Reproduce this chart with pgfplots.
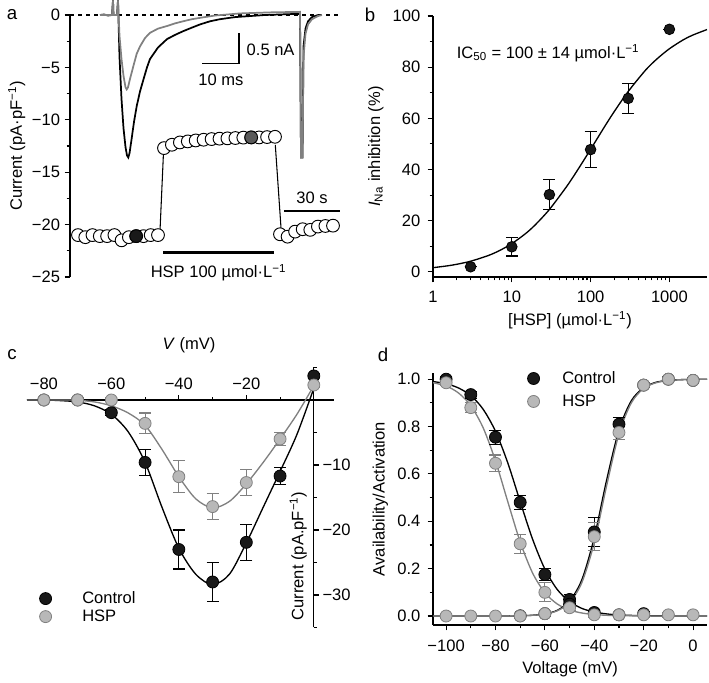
\documentclass[border=0pt]{standalone}
\usepackage{fontspec}
\setmainfont{Liberation Sans}
\usepackage{pgfplots}
\pgfplotsset{compat=1.18}
\definecolor{dk}{gray}{0.1}
\definecolor{lg}{gray}{0.72}
\definecolor{mg}{gray}{0.5}
\pgfplotsset{
  every axis/.append style={scale only axis, font=\fontsize{12.4}{14.5}\selectfont,
    /pgf/number format/assume math mode=true, /pgf/number format/1000 sep={},
    axis line style={-, line width=0.8pt},
    every inner x axis line/.append style={-}, every inner y axis line/.append style={-},
    every outer x axis line/.append style={-}, every outer y axis line/.append style={-},
    tick style={line width=0.8pt, black}, major tick length=4pt, minor tick length=2.5pt},
  blk/.style={only marks, mark=*, mark size=4.5pt, mark options={fill=dk, draw=black, line width=0.6pt},
    error bars/y dir=both, error bars/y explicit,
    error bars/error bar style={black, line width=0.8pt},
    error bars/error mark options={rotate=90, mark size=4.5pt, line width=0.8pt, black},
    legend image code/.code={\draw[##1] plot coordinates {(0pt,0pt)};}},
  gry/.style={only marks, mark=*, mark size=4.5pt, mark options={fill=lg, draw=mg, line width=0.6pt},
    error bars/y dir=both, error bars/y explicit,
    error bars/error bar style={mg, line width=0.8pt},
    error bars/error mark options={rotate=90, mark size=4.5pt, line width=0.8pt, mg},
    legend image code/.code={\draw[##1] plot coordinates {(0pt,0pt)};}},
  mylegend/.style={legend style={draw=none, fill=none, inner sep=0pt, outer sep=0pt,
    nodes={inner sep=0pt, outer sep=0pt}, font=\fontsize{12.4}{14.5}\selectfont}, legend cell align=left},
}
\begin{document}
\begin{tikzpicture}
\useasboundingbox (0,0) rectangle (531.75pt,-511.5pt);
\node[font=\fontsize{14}{16}\selectfont] at (9pt,-11.25pt) {a};
\node[font=\fontsize{14}{16}\selectfont] at (277.5pt,-11.25pt) {b};
\node[font=\fontsize{14}{16}\selectfont] at (9pt,-266.25pt) {c};
\node[font=\fontsize{14}{16}\selectfont] at (287.25pt,-266.25pt) {d};

% ---------------- panel a ----------------
\begin{axis}[at={(52.5pt,-207.75pt)}, anchor=south west, width=206.25pt, height=196.5pt,
  xmin=70, xmax=345, ymin=-25, ymax=0, clip=false, hide x axis, axis y line*=left,
  tick align=outside,
  ytick={-25,-20,-15,-10,-5,0}, yticklabels={−25,−20,−15,−10,−5,0},
  minor ytick={-22.5,-17.5,-12.5,-7.5,-2.5},
  ylabel={Current (pA·pF\textsuperscript{−1})}, ylabel style={yshift=-2pt}]
\addplot[black, dashed, line width=0.8pt] coordinates {(70,0) (340,0)};
\addplot[black, line width=1.3pt] coordinates {
 (100,0) (104,0.05) (108,-0.05) (112,0) (113,1.4) (113.5,0) (117,0) (118,1.4)
 (119.5,-4) (121.5,-8) (123.5,-10.8) (125.5,-12.6) (127,-13.4) (128.3,-13.6) (129.5,-13.2)
 (131.5,-11.9) (134,-10.2) (136.7,-8.7) (140,-7.3) (143.3,-6.2) (147,-5) (150,-4.2)
 (158,-3.1) (167,-2.3) (175,-1.9) (183,-1.55) (192,-1.2) (200,-0.9) (210,-0.6) (220,-0.4)
 (235,-0.2) (250,-0.1) (265,0) (280,0.05) (295,0.1) (300,0.1) (301,-13.6) (302.5,-13.6)
 (303.5,-3) (305.5,-1.3) (308,-0.6) (312,-0.2) (318,0)};
\addplot[mg, line width=1.3pt] coordinates {
 (100,0) (112,0) (113,1.4) (113.5,0) (117,0) (118,1.4)
 (119.5,-2) (121.5,-4.2) (123.5,-5.8) (125.5,-6.9) (126.7,-7.1) (128,-6.9) (130,-6.1)
 (133.3,-4.9) (136.7,-3.7) (140,-3.0) (145,-2.2) (150,-1.7) (158,-1.3) (167,-1.05)
 (175,-0.8) (183,-0.6) (192,-0.4) (200,-0.27) (215,-0.05) (240,0.15) (270,0.25) (300,0.3)
 (301,-13.6) (302.5,-13.6) (303.5,-4) (305.5,-1.8) (308,-0.9) (312,-0.4) (318,-0.1) (322,0)};
\addplot[black, line width=0.8pt] coordinates {(160,-20.6) (163.4,-13.3)};
\addplot[black, line width=0.8pt] coordinates {(275.3,-12.4) (281,-20.3)};
\addplot[black, line width=2pt] coordinates {(163.3,-22.64) (274,-22.64)};
\addplot[black, line width=1.6pt] coordinates {(284,-18.7) (340,-18.7)};
\addplot[black, line width=1pt] coordinates {(202,-4.64) (239,-4.64) (239,-1.67)};
\node at (axis cs:218.5,-24.6) {HSP 100 µmol·L\textsuperscript{−1}};
\node at (axis cs:312,-17.4) {30 s};
\node[anchor=west] at (axis cs:242,-3.3) {0.5 nA};
\node at (axis cs:221,-6.2) {10 ms};
\addplot[only marks, mark=*, mark size=4.8pt, mark options={fill=white, draw=black, line width=0.7pt}] coordinates {
 (78,-21.0) (85.3,-21.2) (92.5,-21.0) (99.8,-21.1) (107.1,-21.1) (114.4,-21.0) (121.6,-21.5)
 (128.9,-21.2) (136.2,-21.1) (143.5,-21.1) (150.7,-21.0) (158,-21.0)};
\addplot[only marks, mark=*, mark size=4.8pt, mark options={fill=dk, draw=black, line width=0.7pt}] coordinates {(136.2,-21.1)};
\addplot[only marks, mark=*, mark size=4.8pt, mark options={fill=white, draw=black, line width=0.7pt}] coordinates {
 (164,-12.70) (171.9,-12.38) (179.9,-12.16) (187.8,-12.06) (195.7,-11.97) (203.6,-11.9)
 (211.6,-11.84) (219.5,-11.8) (227.4,-11.77) (235.4,-11.74) (243.3,-11.7) (251.2,-11.68)
 (259.1,-11.68) (267.1,-11.65) (275,-11.62)};
\addplot[only marks, mark=*, mark size=4.8pt, mark options={fill=gray!70!black, draw=black, line width=0.7pt}] coordinates {(251.2,-11.68)};
\addplot[only marks, mark=*, mark size=4.8pt, mark options={fill=white, draw=black, line width=0.7pt}] coordinates {
 (280,-20.92) (287.6,-21.15) (295.1,-20.67) (302.7,-20.44) (310.3,-20.5) (317.9,-20.19) (325.4,-20.13) (333,-20.1)};
\end{axis}

% ---------------- panel b ----------------
\begin{axis}[at={(324.75pt,-207.75pt)}, anchor=south west, width=205.5pt, height=195.75pt,
  xmode=log, log basis x=10, xmin=1, xmax=3000, ymin=-2, ymax=100, clip=false,
  axis lines*=left, tick align=outside, log ticks with fixed point,
  xticklabel style={yshift=-3pt}, yticklabel style={xshift=-2pt},
  ytick={0,20,40,60,80,100}, minor ytick={10,30,50,70,90},
  xlabel={[HSP] (µmol·L\textsuperscript{−1})},
  ylabel={\textit{I}\textsubscript{Na} inhibition (\%)}]
\addplot[black, line width=1pt, smooth] coordinates {
 (1,1.65) (1.5,2.33) (2,2.97) (3,4.17) (5,6.36) (7,8.35) (10,11.05) (15,15.0) (20,18.5)
 (30,24.4) (50,33.5) (70,40.3) (100,47.9) (150,56.7) (200,62.7) (300,70.5) (500,78.9)
 (700,83.3) (1000,87.2) (1500,90.7) (2000,92.6) (3000,94.7)};
\addplot[blk, mark size=4pt] coordinates {
 (3,2) +- (0,0) (10,9.8) +- (0,3.6) (30,30.2) +- (0,6) (100,47.8) +- (0,7)
 (300,67.8) +- (0,6) (1000,94.8) +- (0,0)};
\node[anchor=west] at (axis cs:1.75,85.5) {IC\textsubscript{50} = 100 ± 14 µmol·L\textsuperscript{−1}};
\end{axis}

% ---------------- panel c ----------------
\begin{axis}[at={(20.25pt,-470.6pt)}, anchor=south west, width=230.3pt, height=195pt,
  xmin=-85, xmax=6, ymin=-35, ymax=5, clip=false,
  axis x line=middle, axis y line=middle, x axis line style={-}, y axis line style={-},
  tick align=center,
  major x tick style={yshift=2pt}, minor x tick style={yshift=1.25pt},
  major y tick style={xshift=2pt}, minor y tick style={xshift=1.25pt},
  xtick={-80,-60,-40,-20}, xticklabels={−80,−60,−40,−20}, minor xtick={-70,-50,-30,-10},
  ytick={-30,-20,-10}, yticklabels={−30,−20,−10}, minor ytick={-35,-25,-15,-5,5},
  xticklabel style={anchor=south, yshift=6pt},
  yticklabel style={anchor=west, xshift=5pt},
  mylegend,
  legend style={at={(0.041,0.138)}, anchor=north west, row sep=3.2pt,
    /tikz/every odd column/.append style={column sep=23pt}}]
\addplot[black, line width=1pt, smooth, forget plot] coordinates {
 (-85,0) (-80,0) (-75,-0.1) (-70,-0.3) (-65,-0.9) (-60,-2.2) (-55,-4.9) (-50,-9.6)
 (-45,-16.5) (-40,-22.8) (-35,-26.8) (-30,-28.4) (-25,-26.8) (-20,-22) (-15,-16.5)
 (-10,-11) (-5,-5.3) (0,1.8)};
\addplot[mg, line width=1pt, smooth, forget plot] coordinates {
 (-85,0) (-75,0) (-70,-0.05) (-65,-0.3) (-60,-0.9) (-55,-2.0) (-50,-3.9) (-45,-7.6)
 (-40,-11.8) (-35,-15.2) (-30,-16.6) (-25,-15.6) (-20,-12.9) (-15,-9.6) (-10,-6.0)
 (-5,-2.2) (0,2.2)};
\addplot[blk] coordinates {
 (-80,0) +- (0,0) (-70,0) +- (0,0) (-60,-1.95) +- (0,0.5) (-50,-9.6) +- (0,2)
 (-40,-23.0) +- (0,3) (-30,-28.0) +- (0,3) (-20,-21.9) +- (0,2.8) (-10,-11.7) +- (0,1.3)
 (0,3.7) +- (0,0.3)};
\addplot[gry] coordinates {
 (-80,0) +- (0,0) (-70,0) +- (0,0) (-60,0) +- (0,0.3) (-50,-3.6) +- (0,1.6)
 (-40,-11.8) +- (0,2.5) (-30,-16.4) +- (0,2) (-20,-12.7) +- (0,2) (-10,-6.0) +- (0,1)
 (0,2.3) +- (0,0.3)};
\legend{Control, HSP}
\node[rotate=90] at (axis cs:-4.6,-24) {Current (pA.pF\textsuperscript{−1})};
\node at (axis cs:-37,8.5) {\textit{V} (mV)};
\end{axis}

% ---------------- panel d ----------------
\begin{axis}[at={(324.75pt,-468.75pt)}, anchor=south west, width=205.6pt, height=188.8pt,
  xmin=-105.3, xmax=5.7, ymin=-0.038, ymax=1.025, clip=false,
  axis lines*=left, tick align=outside,
  xticklabel style={yshift=-4pt}, yticklabel style={xshift=-2pt},
  xtick={-100,-80,-60,-40,-20,0}, xticklabels={−100,−80,−60,−40,−20,0},
  minor xtick={-90,-70,-50,-30,-10},
  ytick={0,0.2,0.4,0.6,0.8,1}, yticklabels={0.0,0.2,0.4,0.6,0.8,1.0},
  minor ytick={0.1,0.3,0.5,0.7,0.9},
  xlabel={Voltage (mV)}, ylabel={Availability/Activation},
  mylegend,
  legend style={at={(0.345,1.007)}, anchor=north west, row sep=6.9pt,
    /tikz/every odd column/.append style={column sep=17pt}}]
\addplot[black, line width=1pt, smooth, forget plot] coordinates {
 (-105.3,0.990) (-100,0.981) (-95,0.963) (-90,0.931) (-85,0.873) (-80,0.780) (-75,0.646)
 (-70,0.483) (-65,0.325) (-60,0.198) (-55,0.112) (-50,0.061) (-45,0.032) (-40,0.017)
 (-35,0.0088) (-30,0.0045) (-20,0.0012) (-10,0.0003) (0,0.0001) (5.7,0)};
\addplot[mg, line width=1pt, smooth, forget plot] coordinates {
 (-105.3,0.985) (-100,0.971) (-95,0.942) (-90,0.888) (-85,0.795) (-80,0.655) (-75,0.482)
 (-70,0.313) (-65,0.182) (-60,0.0985) (-55,0.0508) (-50,0.0255) (-45,0.0127) (-40,0.0063)
 (-35,0.003) (-30,0.0015) (-20,0.0004) (0,0) (5.7,0)};
\addplot[black, line width=1pt, smooth, forget plot] coordinates {
 (-105.3,0) (-80,0) (-70,0.0012) (-65,0.0033) (-60,0.009) (-55,0.024) (-50,0.063) (-45,0.154)
 (-40,0.332) (-35,0.574) (-30,0.786) (-25,0.909) (-20,0.964) (-15,0.987) (-10,0.995)
 (-5,0.998) (0,0.9993) (5.7,1.0)};
\addplot[mg, line width=1pt, smooth, forget plot] coordinates {
 (-105.3,0) (-80,0) (-70,0.0011) (-65,0.003) (-60,0.0082) (-55,0.022) (-50,0.057) (-45,0.142)
 (-40,0.31) (-35,0.55) (-30,0.769) (-25,0.90) (-20,0.961) (-15,0.985) (-10,0.994)
 (-5,0.998) (0,0.9993) (5.7,1.0)};
\addplot[blk] coordinates {
 (-100,1.0) +- (0,0.01) (-90,0.935) +- (0,0.015) (-80,0.755) +- (0,0.03) (-70,0.48) +- (0,0.03)
 (-60,0.175) +- (0,0.025) (-50,0.07) +- (0,0.02) (-40,0.015) +- (0,0.01) (-30,0.005) +- (0,0.01)
 (-20,0.01) +- (0,0.01)};
\addplot[gry] coordinates {
 (-100,0.985) +- (0,0.01) (-90,0.88) +- (0,0.02) (-80,0.645) +- (0,0.035) (-70,0.305) +- (0,0.04)
 (-60,0.1) +- (0,0.04) (-50,0.04) +- (0,0.02) (-40,0.005) +- (0,0.01) (-30,0.005) +- (0,0.01)
 (-20,0.005) +- (0,0.01) (-10,0.005) +- (0,0.01) (0,0.005) +- (0,0.01)};
\addplot[blk, forget plot] coordinates {
 (-70,0.001) +- (0,0.01) (-60,0.01) +- (0,0.01) (-50,0.05) +- (0,0.01) (-40,0.355) +- (0,0.06)
 (-30,0.81) +- (0,0.03) (-20,0.975) +- (0,0.01) (-10,1.0) +- (0,0.01) (0,0.995) +- (0,0.01)};
\addplot[gry, forget plot] coordinates {
 (-100,0) +- (0,0) (-90,0) +- (0,0) (-80,0) +- (0,0) (-70,0) +- (0,0.01) (-60,0.01) +- (0,0.01)
 (-50,0.035) +- (0,0.01) (-40,0.335) +- (0,0.06) (-30,0.775) +- (0,0.03) (-20,0.975) +- (0,0.01)
 (-10,1.0) +- (0,0.01) (0,0.995) +- (0,0.01)};
\legend{Control, HSP}
\end{axis}
\end{tikzpicture}
\end{document}
